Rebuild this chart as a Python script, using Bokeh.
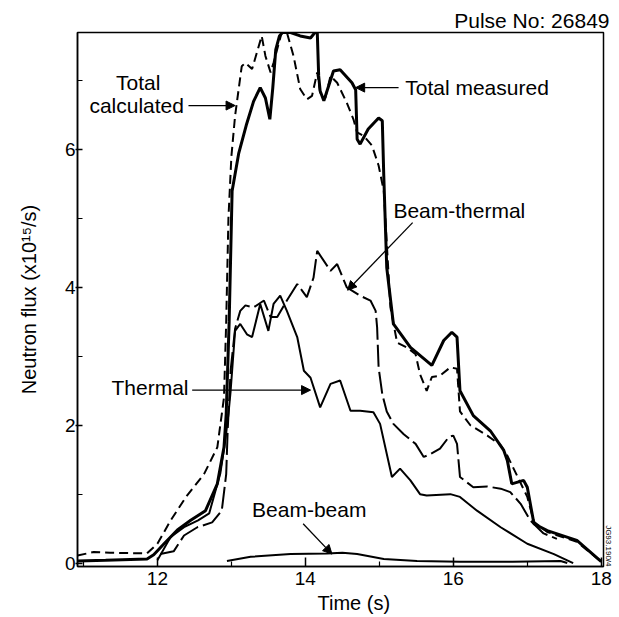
import math
from bokeh.plotting import figure
from bokeh.models import (Range1d, FixedTicker, Label, Arrow, NormalHead, Title)
from bokeh.embed import file_html
from bokeh.resources import INLINE

# ---------------- data ----------------
x_ticks = [12, 14, 16, 18]
x_minor = [11, 13, 15, 17]
y_ticks = [0, 2, 4, 6]
y_minor = [1, 3, 5, 7]

tm_t = [10.92, 11.3, 11.86, 11.95, 12.09, 12.27, 12.45, 12.65, 12.81, 12.9, 12.93, 12.97, 13.01,
        13.1, 13.2, 13.3, 13.39, 13.46, 13.52, 13.56, 13.6, 13.65, 13.69, 13.8, 13.93, 14.07,
        14.16, 14.18, 14.2, 14.25, 14.38, 14.47, 14.63, 14.68, 14.70, 14.74, 14.85, 14.99,
        15.04, 15.06, 15.10, 15.19, 15.42, 15.71, 15.87, 15.98, 16.05, 16.09, 16.27, 16.5,
        16.68, 16.73, 16.79, 16.95, 17.0, 17.09, 17.27, 17.67, 18.0]
tm_f = [0.03, 0.04, 0.06, 0.12, 0.28, 0.48, 0.62, 0.76, 1.15, 1.68, 2.16, 3.5, 5.4,
        5.95, 6.35, 6.7, 6.9, 6.75, 6.44, 6.9, 7.45, 7.65, 7.70, 7.70, 7.65, 7.62,
        7.74, 7.07, 6.85, 6.71, 7.14, 7.16, 6.97, 6.87, 6.15, 6.08, 6.3, 6.46,
        6.42, 5.62, 4.29, 3.47, 3.13, 2.87, 3.23, 3.35, 3.28, 2.5, 2.14, 1.92,
        1.64, 1.49, 1.15, 1.2, 1.1, 0.57, 0.47, 0.33, 0.02]

tc_t = [10.92, 11.14, 11.36, 11.86, 12.0, 12.18, 12.4, 12.63, 12.81, 12.9, 12.93, 12.96, 13.0,
        13.05, 13.14, 13.19, 13.28, 13.41, 13.46, 13.53, 13.57, 13.68, 13.75, 13.84, 13.93,
        14.02, 14.09, 14.16, 14.2, 14.27, 14.34, 14.43, 14.56, 14.65, 14.70, 14.79, 14.9,
        14.99, 15.06, 15.15, 15.24, 15.37, 15.49, 15.55, 15.64, 15.71, 15.82, 15.96, 16.05,
        16.09, 16.23, 16.46, 16.64, 16.73, 16.82, 17.0, 17.09, 17.27, 17.67, 18.0]
tc_f = [0.11, 0.16, 0.15, 0.14, 0.28, 0.62, 0.98, 1.29, 1.68, 2.4, 3.5, 5.0, 5.9,
        6.49, 7.21, 7.26, 7.17, 7.65, 7.36, 7.12, 7.26, 7.70, 7.70, 7.36, 6.88,
        6.73, 6.78, 7.12, 6.83, 6.75, 7.07, 6.97, 6.68, 6.44, 6.25, 6.2, 6.06,
        5.77, 5.4, 3.71, 3.2, 3.13, 3.03, 2.74, 2.50, 2.70, 2.72, 2.84, 2.82,
        2.2, 2.0, 1.85, 1.71, 1.56, 1.36, 0.96, 0.6, 0.45, 0.31, 0.02]

th_t = [12.0, 12.18, 12.36, 12.55, 12.7, 12.85, 12.92, 12.96, 12.99, 13.05, 13.12, 13.21,
        13.28, 13.39, 13.5, 13.57, 13.66, 13.75, 13.89, 13.98, 14.07, 14.2, 14.34, 14.47,
        14.61, 14.74, 14.92, 15.01, 15.17, 15.28, 15.42, 15.55, 15.64, 15.96, 16.09, 16.32,
        16.64, 17.0, 17.36, 17.54, 17.62]
th_f = [0.04, 0.38, 0.52, 0.62, 0.72, 1.3, 1.8, 2.16, 2.5, 3.37, 3.47, 3.32,
        3.28, 3.76, 3.37, 3.76, 3.88, 3.66, 3.28, 2.79, 2.69, 2.26, 2.6, 2.65,
        2.21, 2.21, 2.19, 2.02, 1.25, 1.37, 1.2, 1.0, 0.98, 1.0, 0.96, 0.76,
        0.52, 0.28, 0.13, 0.04, 0.0]

bt_t = [12.04, 12.22, 12.36, 12.54, 12.74, 12.87, 12.93, 12.95, 12.99, 13.05, 13.12, 13.19,
        13.3, 13.44, 13.53, 13.62, 13.75, 13.89, 14.02, 14.11, 14.16, 14.34, 14.43, 14.56,
        14.74, 14.88, 14.95, 14.97, 14.99, 15.04, 15.1, 15.19, 15.33, 15.49, 15.6, 15.69,
        15.82, 15.94, 16.0, 16.05, 16.09, 16.27, 16.46, 16.64, 16.77, 16.91, 17.04, 17.22, 17.4]
bt_f = [0.13, 0.17, 0.40, 0.52, 0.59, 0.76, 1.29, 1.93, 2.8, 3.4, 3.66, 3.74,
        3.71, 3.81, 3.57, 3.57, 3.81, 4.05, 3.86, 4.14, 4.53, 4.24, 4.34, 4.0,
        3.88, 3.81, 3.66, 3.42, 2.84, 2.45, 2.2, 2.02, 1.87, 1.73, 1.54, 1.58,
        1.66, 1.83, 1.85, 1.73, 1.25, 1.10, 1.11, 1.08, 1.03, 0.86, 0.62, 0.43, 0.35]

bb_t = [12.94, 13.26, 13.8, 14.29, 14.5, 14.7, 15.06, 15.51, 16.09, 16.8, 17.45, 17.54]
bb_f = [0.03, 0.09, 0.13, 0.14, 0.15, 0.13, 0.06, 0.03, 0.02, 0.02, 0.03, 0.0]

FONT = "Liberation Sans"

p = figure(width=619, height=617, output_backend="svg", toolbar_location=None,
           x_range=Range1d(10.92, 18.03), y_range=Range1d(-0.05, 7.7),
           min_border_left=77, min_border_right=16, min_border_top=32, min_border_bottom=51)
p.background_fill_color = "white"
p.border_fill_color = "white"
p.outline_line_color = "black"
p.outline_line_width = 1.5
p.xgrid.grid_line_color = None
p.ygrid.grid_line_color = None

p.title.text = "Pulse No: 26849"
p.title.align = "right"
p.title.offset = -6
p.title.text_font = FONT
p.title.text_font_size = "21px"
p.title.text_font_style = "normal"
p.title.text_color = "black"
p.title.standoff = 1

for ax in (p.xaxis[0], p.yaxis[0]):
    ax.axis_line_width = 1.5
    ax.axis_line_color = "black"
    ax.major_tick_line_color = "black"
    ax.minor_tick_line_color = "black"
    ax.major_tick_line_width = 1.5
    ax.minor_tick_line_width = 1.2
    ax.major_label_text_font = FONT
    ax.major_label_text_font_size = "19px"
    ax.major_label_text_color = "black"

p.xaxis.ticker = FixedTicker(ticks=x_ticks, minor_ticks=x_minor)
p.xaxis.major_tick_in = 9
p.xaxis.major_tick_out = 0
p.xaxis.minor_tick_in = 5
p.xaxis.minor_tick_out = 0
p.xaxis.major_label_standoff = 5

p.yaxis.ticker = FixedTicker(ticks=y_ticks, minor_ticks=y_minor)
p.yaxis.major_tick_in = 5
p.yaxis.major_tick_out = 2
p.yaxis.minor_tick_in = 5
p.yaxis.minor_tick_out = 0
p.yaxis.major_label_standoff = 0
p.yaxis.axis_label = "Neutron flux (x10¹⁵/s)"
p.yaxis.axis_label_text_font = FONT
p.yaxis.axis_label_text_font_size = "20px"
p.yaxis.axis_label_text_font_style = "normal"
p.yaxis.axis_label_text_color = "black"
p.yaxis.axis_label_standoff = 22

# x label as a title below the axis, placed like the reference
p.add_layout(Title(text="Time (s)", align="left", offset=240, standoff=4,
                   text_font=FONT, text_font_size="20px", text_font_style="normal",
                   text_color="black"), "below")
# plate code at the right edge, bottom
p.add_layout(Title(text="JG93.190/4", align="right", offset=0, standoff=0,
                   text_font=FONT, text_font_size="8px", text_font_style="normal",
                   text_color="black"), "right")

# curves
p.line(bb_t, bb_f, line_color="black", line_width=2)
p.line(th_t, th_f, line_color="black", line_width=2)
p.line(bt_t, bt_f, line_color="black", line_width=2, line_dash="22 5")
p.line(tc_t, tc_f, line_color="black", line_width=2, line_dash="9 5")
p.line(tm_t, tm_f, line_color="black", line_width=3)

def lab(x, y, text, align="left", size="21px"):
    p.add_layout(Label(x=x, y=y, text=text, text_align=align, text_baseline="middle",
                       text_font=FONT, text_font_size=size, text_color="black"))

def arr(x0, y0, x1, y1):
    p.add_layout(Arrow(x_start=x0, y_start=y0, x_end=x1, y_end=y1, line_width=1.3,
                       line_color="black",
                       end=NormalHead(size=9, fill_color="black", line_color="black")))

lab(11.74, 6.97, "Total", align="center")
lab(11.72, 6.64, "calculated", align="center")
arr(12.42, 6.64, 13.05, 6.64)

lab(15.35, 6.9, "Total measured")
arr(15.26, 6.9, 14.68, 6.9)

lab(15.19, 5.12, "Beam-thermal")
arr(15.45, 4.94, 14.57, 3.96)

lab(12.42, 2.55, "Thermal", align="right")
arr(12.47, 2.51, 14.07, 2.51)

lab(13.28, 0.77, "Beam-beam")
arr(13.97, 0.57, 14.36, 0.13)

open("out.html", "w").write(file_html(p, INLINE))
